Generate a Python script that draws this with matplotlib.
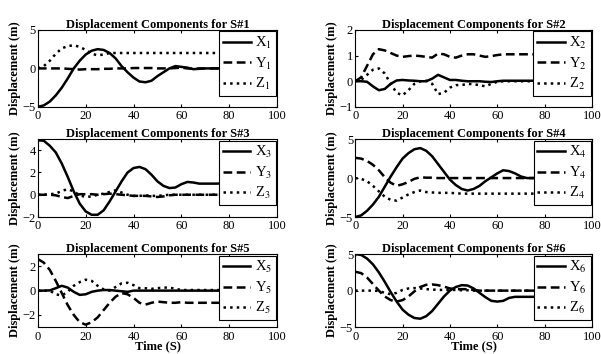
import numpy as np
import matplotlib
matplotlib.use('Agg')
import matplotlib.pyplot as plt

plt.rcParams['font.family'] = 'Liberation Serif'
plt.rcParams['mathtext.fontset'] = 'stix'

# time axis (s)
t = np.arange(0, 100.1, 2.5)

# S#1
x1 = [-5.0, -4.8, -4.3, -3.5, -2.5, -1.3, 0.0, 1.0, 1.8, 2.3, 2.5, 2.4, 2.0, 1.3, 0.3, -0.5, -1.2, -1.7, -1.8, -1.6,
      -1.0, -0.5, 0.0, 0.3, 0.2, 0.1, -0.1, -0.05, 0.0, 0.0, 0.0, 0.0, 0.0, 0.0, 0.0, 0.0, 0.0, 0.0, 0.0, 0.0, 0.0]
y1 = [0.0, 0.0, 0.0, 0.0, 0.0, -0.05, -0.1, -0.15, -0.1, -0.1, -0.1, -0.05, -0.05, 0.0, 0.0, 0.0, 0.05, 0.05, 0.05, 0.05,
      0.0, 0.0, 0.0, 0.05, 0.1, 0.0, -0.05, 0.0, 0.0, 0.0, 0.0, 0.0, 0.0, 0.0, 0.0, 0.0, 0.0, 0.0, 0.0, 0.0, 0.0]
z1 = [0.0, 0.3, 1.0, 1.9, 2.6, 2.9, 3.0, 2.8, 2.4, 1.9, 1.7, 1.8, 2.0, 2.0, 2.0, 2.0, 2.0, 2.0, 2.0, 2.0,
      2.0, 2.0, 2.0, 2.0, 2.0, 2.0, 2.0, 2.0, 2.0, 2.0, 2.0, 2.0, 2.0, 2.0, 2.0, 2.0, 2.0, 2.0, 2.0, 2.0, 2.0]

# S#2
x2 = [0.0, 0.0, -0.02, -0.2, -0.35, -0.3, -0.1, 0.03, 0.05, 0.03, 0.02, 0.0, 0.0, 0.1, 0.25, 0.15, 0.05, 0.05, 0.02, 0.0,
      0.0, 0.0, -0.02, -0.03, 0.0, 0.02, 0.02, 0.02, 0.02, 0.02, 0.02, 0.02, 0.02, 0.02, 0.02, 0.02, 0.02, 0.02, 0.02, 0.02, 0.02]
y2 = [0.0, 0.15, 0.6, 1.05, 1.25, 1.2, 1.1, 1.0, 0.95, 0.98, 1.0, 0.98, 0.95, 0.92, 1.08, 1.05, 0.95, 0.92, 1.0, 1.05,
      1.05, 1.0, 0.95, 0.98, 1.02, 1.05, 1.05, 1.05, 1.05, 1.05, 1.05, 1.05, 1.05, 1.05, 1.05, 1.05, 1.05, 1.05, 1.05, 1.05, 1.05]
z2 = [0.0, 0.05, 0.25, 0.45, 0.5, 0.3, -0.1, -0.45, -0.55, -0.35, -0.1, 0.0, 0.02, -0.1, -0.5, -0.45, -0.25, -0.15, -0.15, -0.1,
      -0.12, -0.15, -0.2, -0.1, -0.02, 0.0, 0.0, 0.0, 0.0, 0.0, 0.0, 0.0, 0.0, 0.0, 0.0, 0.0, 0.0, 0.0, 0.0, 0.0, 0.0]

# S#3
x3 = [4.9, 4.85, 4.4, 3.8, 2.8, 1.6, 0.3, -0.8, -1.5, -1.8, -1.8, -1.4, -0.6, 0.3, 1.2, 2.0, 2.4, 2.5, 2.3, 1.8,
      1.2, 0.8, 0.6, 0.65, 0.95, 1.15, 1.1, 1.0, 1.0, 1.0, 1.0, 1.05, 1.1, 1.1, 1.1, 1.1, 1.1, 1.1, 1.1, 1.1, 1.1]
y3 = [0.0, 0.0, 0.0, -0.05, -0.2, -0.3, -0.1, 0.05, 0.05, 0.05, 0.0, 0.05, 0.1, 0.05, 0.0, -0.05, -0.1, -0.1, -0.1, -0.15,
      -0.2, -0.15, -0.05, 0.0, 0.0, 0.0, 0.0, 0.0, 0.0, 0.0, 0.0, 0.0, 0.0, 0.0, 0.0, 0.0, 0.0, 0.0, 0.0, 0.0, 0.0]
z3 = [0.0, 0.0, 0.05, 0.1, 0.35, 0.5, 0.3, -0.05, -0.2, -0.15, 0.0, 0.1, 0.25, 0.4, 0.2, 0.0, -0.1, -0.1, -0.05, -0.1,
      -0.1, -0.05, 0.0, 0.0, 0.0, 0.0, 0.0, 0.0, 0.0, 0.0, 0.0, 0.0, 0.0, 0.0, 0.0, 0.0, 0.0, 0.0, 0.0, 0.0, 0.0]

# S#4
x4 = [-5.0, -4.8, -4.2, -3.4, -2.4, -1.1, 0.2, 1.4, 2.5, 3.2, 3.7, 3.85, 3.5, 2.8, 1.8, 0.8, -0.2, -0.9, -1.4, -1.6,
      -1.4, -1.0, -0.4, 0.1, 0.6, 1.0, 0.9, 0.6, 0.2, 0.0, 0.0, 0.05, 0.1, 0.1, 0.1, 0.1, 0.1, 0.1, 0.1, 0.1, 0.1]
y4 = [2.6, 2.5, 2.2, 1.7, 1.0, 0.1, -0.6, -1.0, -0.8, -0.5, -0.1, 0.1, 0.05, 0.05, 0.0, 0.0, 0.0, 0.0, 0.0, 0.0,
      0.0, 0.0, 0.0, 0.0, 0.0, 0.0, 0.0, 0.0, 0.0, 0.0, 0.0, 0.0, 0.0, 0.0, 0.0, 0.0, 0.0, 0.0, 0.0, 0.0, 0.0]
z4 = [0.0, -0.1, -0.4, -1.0, -1.7, -2.4, -2.8, -2.9, -2.5, -2.1, -1.8, -1.6, -1.8, -1.85, -1.9, -1.9, -1.9, -1.95, -2.0, -2.0,
      -2.0, -2.0, -2.0, -2.0, -2.0, -2.0, -2.0, -2.0, -2.0, -2.0, -2.0, -2.0, -2.0, -2.0, -2.0, -2.0, -2.0, -2.0, -2.0, -2.0, -2.0]

# S#5
x5 = [0.0, 0.0, 0.02, 0.2, 0.4, 0.25, -0.1, -0.35, -0.3, -0.1, 0.0, 0.05, 0.05, 0.0, -0.05, -0.1, 0.0, 0.0, 0.0, 0.0,
      0.0, 0.0, 0.0, 0.0, 0.0, 0.0, 0.0, 0.0, 0.0, 0.0, 0.0, 0.0, 0.0, 0.0, 0.0, 0.0, 0.0, 0.0, 0.0, 0.0, 0.0]
y5 = [2.6, 2.3, 1.7, 0.8, -0.2, -1.2, -2.0, -2.6, -2.8, -2.6, -2.2, -1.6, -1.0, -0.5, -0.2, -0.3, -0.6, -1.0, -1.15, -1.0,
      -0.9, -0.95, -1.0, -1.0, -0.95, -1.0, -1.0, -1.0, -1.0, -1.0, -1.0, -1.0, -1.0, -1.0, -1.0, -1.0, -1.0, -1.0, -1.0, -1.0, -1.0]
z5 = [0.0, 0.0, 0.0, -0.3, -0.4, -0.1, 0.4, 0.7, 0.9, 0.8, 0.4, 0.1, 0.0, 0.3, 0.6, 0.65, 0.45, 0.2, 0.2, 0.15,
      0.2, 0.25, 0.25, 0.15, 0.05, 0.05, 0.05, 0.05, 0.05, 0.05, 0.05, 0.05, 0.05, 0.05, 0.05, 0.05, 0.05, 0.05, 0.05, 0.05, 0.05]

# S#6
x6 = [5.0, 4.9, 4.4, 3.6, 2.5, 1.2, -0.2, -1.5, -2.6, -3.3, -3.75, -3.85, -3.5, -2.8, -1.8, -0.8, 0.0, 0.5, 0.75, 0.7,
      0.3, -0.3, -0.9, -1.4, -1.5, -1.4, -1.0, -0.85, -0.85, -0.85, -0.85, -0.85, -0.85, -0.85, -0.85, -0.85, -0.85, -0.85, -0.85, -0.85, -0.85]
y6 = [2.6, 2.4, 1.8, 0.9, 0.0, -0.8, -1.3, -1.5, -1.3, -0.8, -0.1, 0.5, 0.8, 0.85, 0.75, 0.55, 0.3, 0.2, 0.2, 0.2,
      0.1, 0.0, 0.0, 0.0, 0.0, 0.0, 0.0, 0.0, 0.0, 0.0, 0.0, 0.0, 0.0, 0.0, 0.0, 0.0, 0.0, 0.0, 0.0, 0.0, 0.0]
z6 = [0.0, 0.0, 0.0, 0.0, -0.05, -0.3, -0.5, -0.3, 0.1, 0.3, 0.35, 0.3, 0.2, 0.15, 0.1, 0.1, 0.1, 0.1, 0.05, 0.05,
      0.0, 0.0, 0.0, 0.0, 0.0, 0.0, 0.0, 0.0, 0.0, 0.0, 0.0, 0.0, 0.0, 0.0, 0.0, 0.0, 0.0, 0.0, 0.0, 0.0, 0.0]

series = [(x1, y1, z1), (x2, y2, z2), (x3, y3, z3), (x4, y4, z4), (x5, y5, z5), (x6, y6, z6)]
ylims = [(-5, 5), (-1, 2), (-2, 5), (-5, 5), (-3, 3), (-5, 5)]
yticks = [[-5, 0, 5], [-1, 0, 1, 2], [-2, 0, 2, 4], [-5, 0, 5], [-2, 0, 2], [-5, 0, 5]]

fig = plt.figure(figsize=(6.01, 3.54), dpi=100)

lefts = [0.063, 0.591]
widths = [0.398, 0.394]
bottoms = [0.698, 0.387, 0.076]
heights = [0.2175, 0.220, 0.206]

for i in range(6):
    row, col = i // 2, i % 2
    ax = fig.add_axes([lefts[col], bottoms[row], widths[col], heights[row]])
    xs, ys, zs = series[i]
    n = i + 1
    ax.plot(t, xs, '-', color='k', lw=1.8, label='X$_{%d}$' % n)
    ax.plot(t, ys, '--', color='k', lw=1.8, dashes=(3.5, 1.8), label='Y$_{%d}$' % n)
    ax.plot(t, zs, ':', color='k', lw=1.8, label='Z$_{%d}$' % n)
    ax.set_xlim(0, 100)
    ax.set_ylim(*ylims[i])
    ax.set_xticks([0, 20, 40, 60, 80, 100])
    ax.set_yticks(yticks[i])
    ax.tick_params(direction='in', top=True, right=True, labelsize=9, length=2.5)
    ax.tick_params(axis='x', pad=2.5)
    ax.tick_params(axis='y', pad=1.5)
    ax.set_title('Displacement Components for S#%d' % n, fontsize=9, fontweight='bold', pad=1.5)
    ax.set_ylabel('Displacement (m)', fontsize=9, fontweight='bold', labelpad=1)
    if row == 2:
        ax.set_xlabel('Time (S)', fontsize=9, fontweight='bold', labelpad=-1.5)
    leg = ax.legend(loc='upper right', fontsize=10.5, handlelength=1.9, handletextpad=0.3,
                    labelspacing=0.3, borderaxespad=0.1, borderpad=0.25, fancybox=False)
    leg.get_frame().set_edgecolor('k')
    leg.get_frame().set_linewidth(0.8)
    leg.get_frame().set_alpha(1)

plt.savefig('out.png', dpi=100)
